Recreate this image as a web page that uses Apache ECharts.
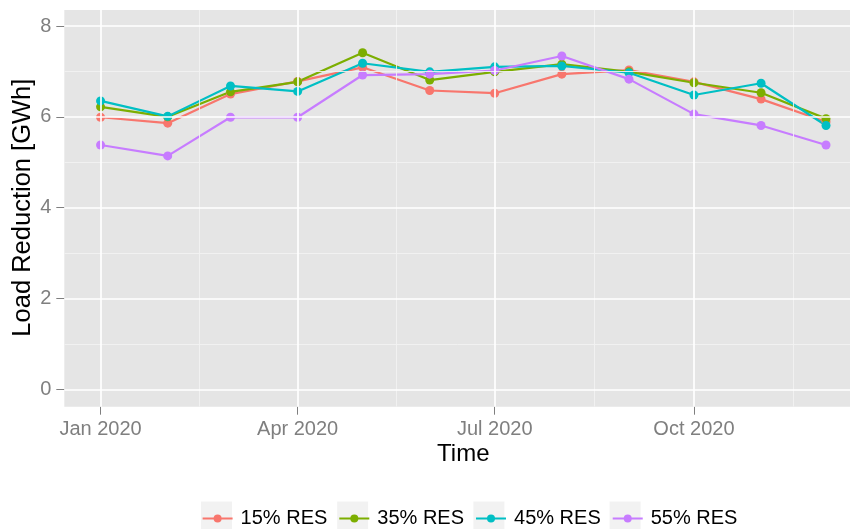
<!DOCTYPE html>
<html>
<head>
<meta charset="utf-8">
<script src="https://cdn.jsdelivr.net/npm/echarts@6/dist/echarts.min.js"></script>
<style>
html,body{margin:0;padding:0;background:#fff;}
#chart{width:850px;height:529px;}
</style>
</head>
<body>
<div id="chart"></div>
<script>
// ---- data ----
const months = ['2020-01-01','2020-02-01','2020-03-01','2020-04-01','2020-05-01','2020-06-01',
                '2020-07-01','2020-08-01','2020-09-01','2020-10-01','2020-11-01','2020-12-01'];
const res15 = [5.99, 5.86, 6.50, 6.78, 7.09, 6.58, 6.52, 6.94, 7.03, 6.77, 6.39, 5.89];
const res35 = [6.22, 6.00, 6.55, 6.77, 7.41, 6.81, 6.99, 7.16, 6.99, 6.75, 6.53, 5.96];
const res45 = [6.35, 6.01, 6.68, 6.56, 7.18, 6.99, 7.10, 7.12, 6.97, 6.48, 6.74, 5.81];
const res55 = [5.38, 5.14, 5.99, 5.99, 6.92, 6.94, 7.02, 7.34, 6.83, 6.06, 5.81, 5.38];
const seriesNames = ['15% RES', '35% RES', '45% RES', '55% RES'];
const xMajorBreaks = ['2020-01-01', '2020-04-01', '2020-07-01', '2020-10-01'];
const xMajorLabels = ['Jan 2020', 'Apr 2020', 'Jul 2020', 'Oct 2020'];
const xMinorBreaks = ['2020-02-15T12:00:00Z', '2020-05-16T12:00:00Z', '2020-08-16T00:00:00Z', '2020-11-16T00:00:00Z'];
const yMajorBreaks = [0, 2, 4, 6, 8];
const yMinorBreaks = [1, 3, 5, 7];

// ---- helpers / styles ----
const colors = ['#F8766D', '#7CAE00', '#00BFC4', '#C77CFF'];
const FONT = "'Liberation Sans', Arial, Helvetica, sans-serif";
const toMs = d => Date.parse(d.length === 10 ? d + 'T00:00:00Z' : d);
const xs = months.map(toMs);
const span = xs[xs.length - 1] - xs[0];
const xMin = xs[0] - span * 0.05;
const xMax = xs[xs.length - 1] + span * 0.05;
const majorX = xMajorBreaks.map(toMs);
const minorX = xMinorBreaks.map(toMs);
const allSeries = [res15, res35, res45, res55];

const GRID_LEFT = 64.3, GRID_W = 798;

const chart = echarts.init(document.getElementById('chart'), null, {renderer: 'canvas'});

const lineSeries = allSeries.map((vals, i) => ({
  name: seriesNames[i],
  type: 'line',
  xAxisIndex: 1,
  yAxisIndex: 1,
  data: vals.map((v, k) => [xs[k], v]),
  symbol: 'circle',
  symbolSize: 9,
  showSymbol: true,
  lineStyle: {width: 2.2, color: colors[i]},
  itemStyle: {color: colors[i]},
  z: 3,
  animation: false
}));

function gridLines(axis, values, color, width, xi, yi, z) {
  return {
    type: 'line', xAxisIndex: xi, yAxisIndex: yi, data: [], z: z, silent: true, animation: false,
    markLine: {
      silent: true, symbol: 'none', animation: false,
      label: {show: false},
      lineStyle: {type: 'solid', color: color, width: width},
      data: values.map(v => ({[axis]: v}))
    }
  };
}

const option = {
  animation: false,
  backgroundColor: '#ffffff',
  color: colors,
  textStyle: {fontFamily: FONT},
  grid: [
    {left: GRID_LEFT, width: GRID_W, top: 10, height: 396.7, show: true, backgroundColor: '#E5E5E5', borderWidth: 0, outerBoundsMode: 'none', containLabel: false},
    {left: GRID_LEFT, width: GRID_W, top: 26, height: 363.3, show: false, outerBoundsMode: 'none', containLabel: false}
  ],
  xAxis: [
    {
      type: 'value', gridIndex: 0, min: xMin, max: xMax,
      axisLine: {show: false},
      axisTick: {show: true, length: 8, lineStyle: {color: '#7F7F7F', width: 1}, customValues: majorX},
      axisLabel: {
        show: true, customValues: majorX, margin: 13, fontSize: 20, color: '#7F7F7F', fontFamily: FONT,
        formatter: v => xMajorLabels[majorX.indexOf(v)] || ''
      },
      splitLine: {show: false},
      name: 'Time', nameLocation: 'middle', nameGap: 35.5, nameMoveOverlap: false,
      nameTextStyle: {fontSize: 24, color: '#000', fontFamily: FONT}
    },
    {type: 'value', gridIndex: 1, min: xMin, max: xMax, show: false, splitLine: {show: false}}
  ],
  yAxis: [
    {type: 'value', gridIndex: 0, min: 0, max: 1, show: false, splitLine: {show: false}},
    {
      type: 'value', gridIndex: 1, min: 0, max: 8, interval: 2,
      axisLine: {show: false},
      axisTick: {show: true, length: 8, lineStyle: {color: '#7F7F7F', width: 1}},
      axisLabel: {show: true, margin: 13, fontSize: 20, color: '#7F7F7F', fontFamily: FONT},
      splitLine: {show: false},
      name: 'Load Reduction [GWh]', nameLocation: 'middle', nameRotate: 90, nameGap: 28.5, nameMoveOverlap: false,
      nameTextStyle: {fontSize: 25.5, color: '#000', fontFamily: FONT}
    }
  ],
  legend: {
    data: seriesNames,
    left: 201.6, top: 508.5,
    padding: 0,
    orient: 'horizontal',
    itemWidth: 30, itemHeight: 10, itemGap: 11,
    textStyle: {fontSize: 20, color: '#000', fontFamily: FONT, padding: [0, 0, 0, 3]},
    selectedMode: false
  },
  graphic: seriesNames.map((n, i) => ({
    type: 'rect', z: -1, silent: true,
    shape: {x: 200.5 + 136.2 * i, y: 501, width: 32, height: 40},
    style: {fill: '#F2F2F2', stroke: '#ffffff', lineWidth: 1}
  })),
  series: [
    gridLines('xAxis', minorX, '#F2F2F2', 0.9, 0, 0, 1),
    gridLines('yAxis', yMinorBreaks, '#F2F2F2', 0.9, 1, 1, 1),
    gridLines('xAxis', majorX, '#FFFFFF', 1.7, 0, 0, 2),
    gridLines('yAxis', yMajorBreaks, '#FFFFFF', 1.7, 1, 1, 2)
  ].concat(lineSeries)
};

chart.setOption(option);
</script>
</body>
</html>
